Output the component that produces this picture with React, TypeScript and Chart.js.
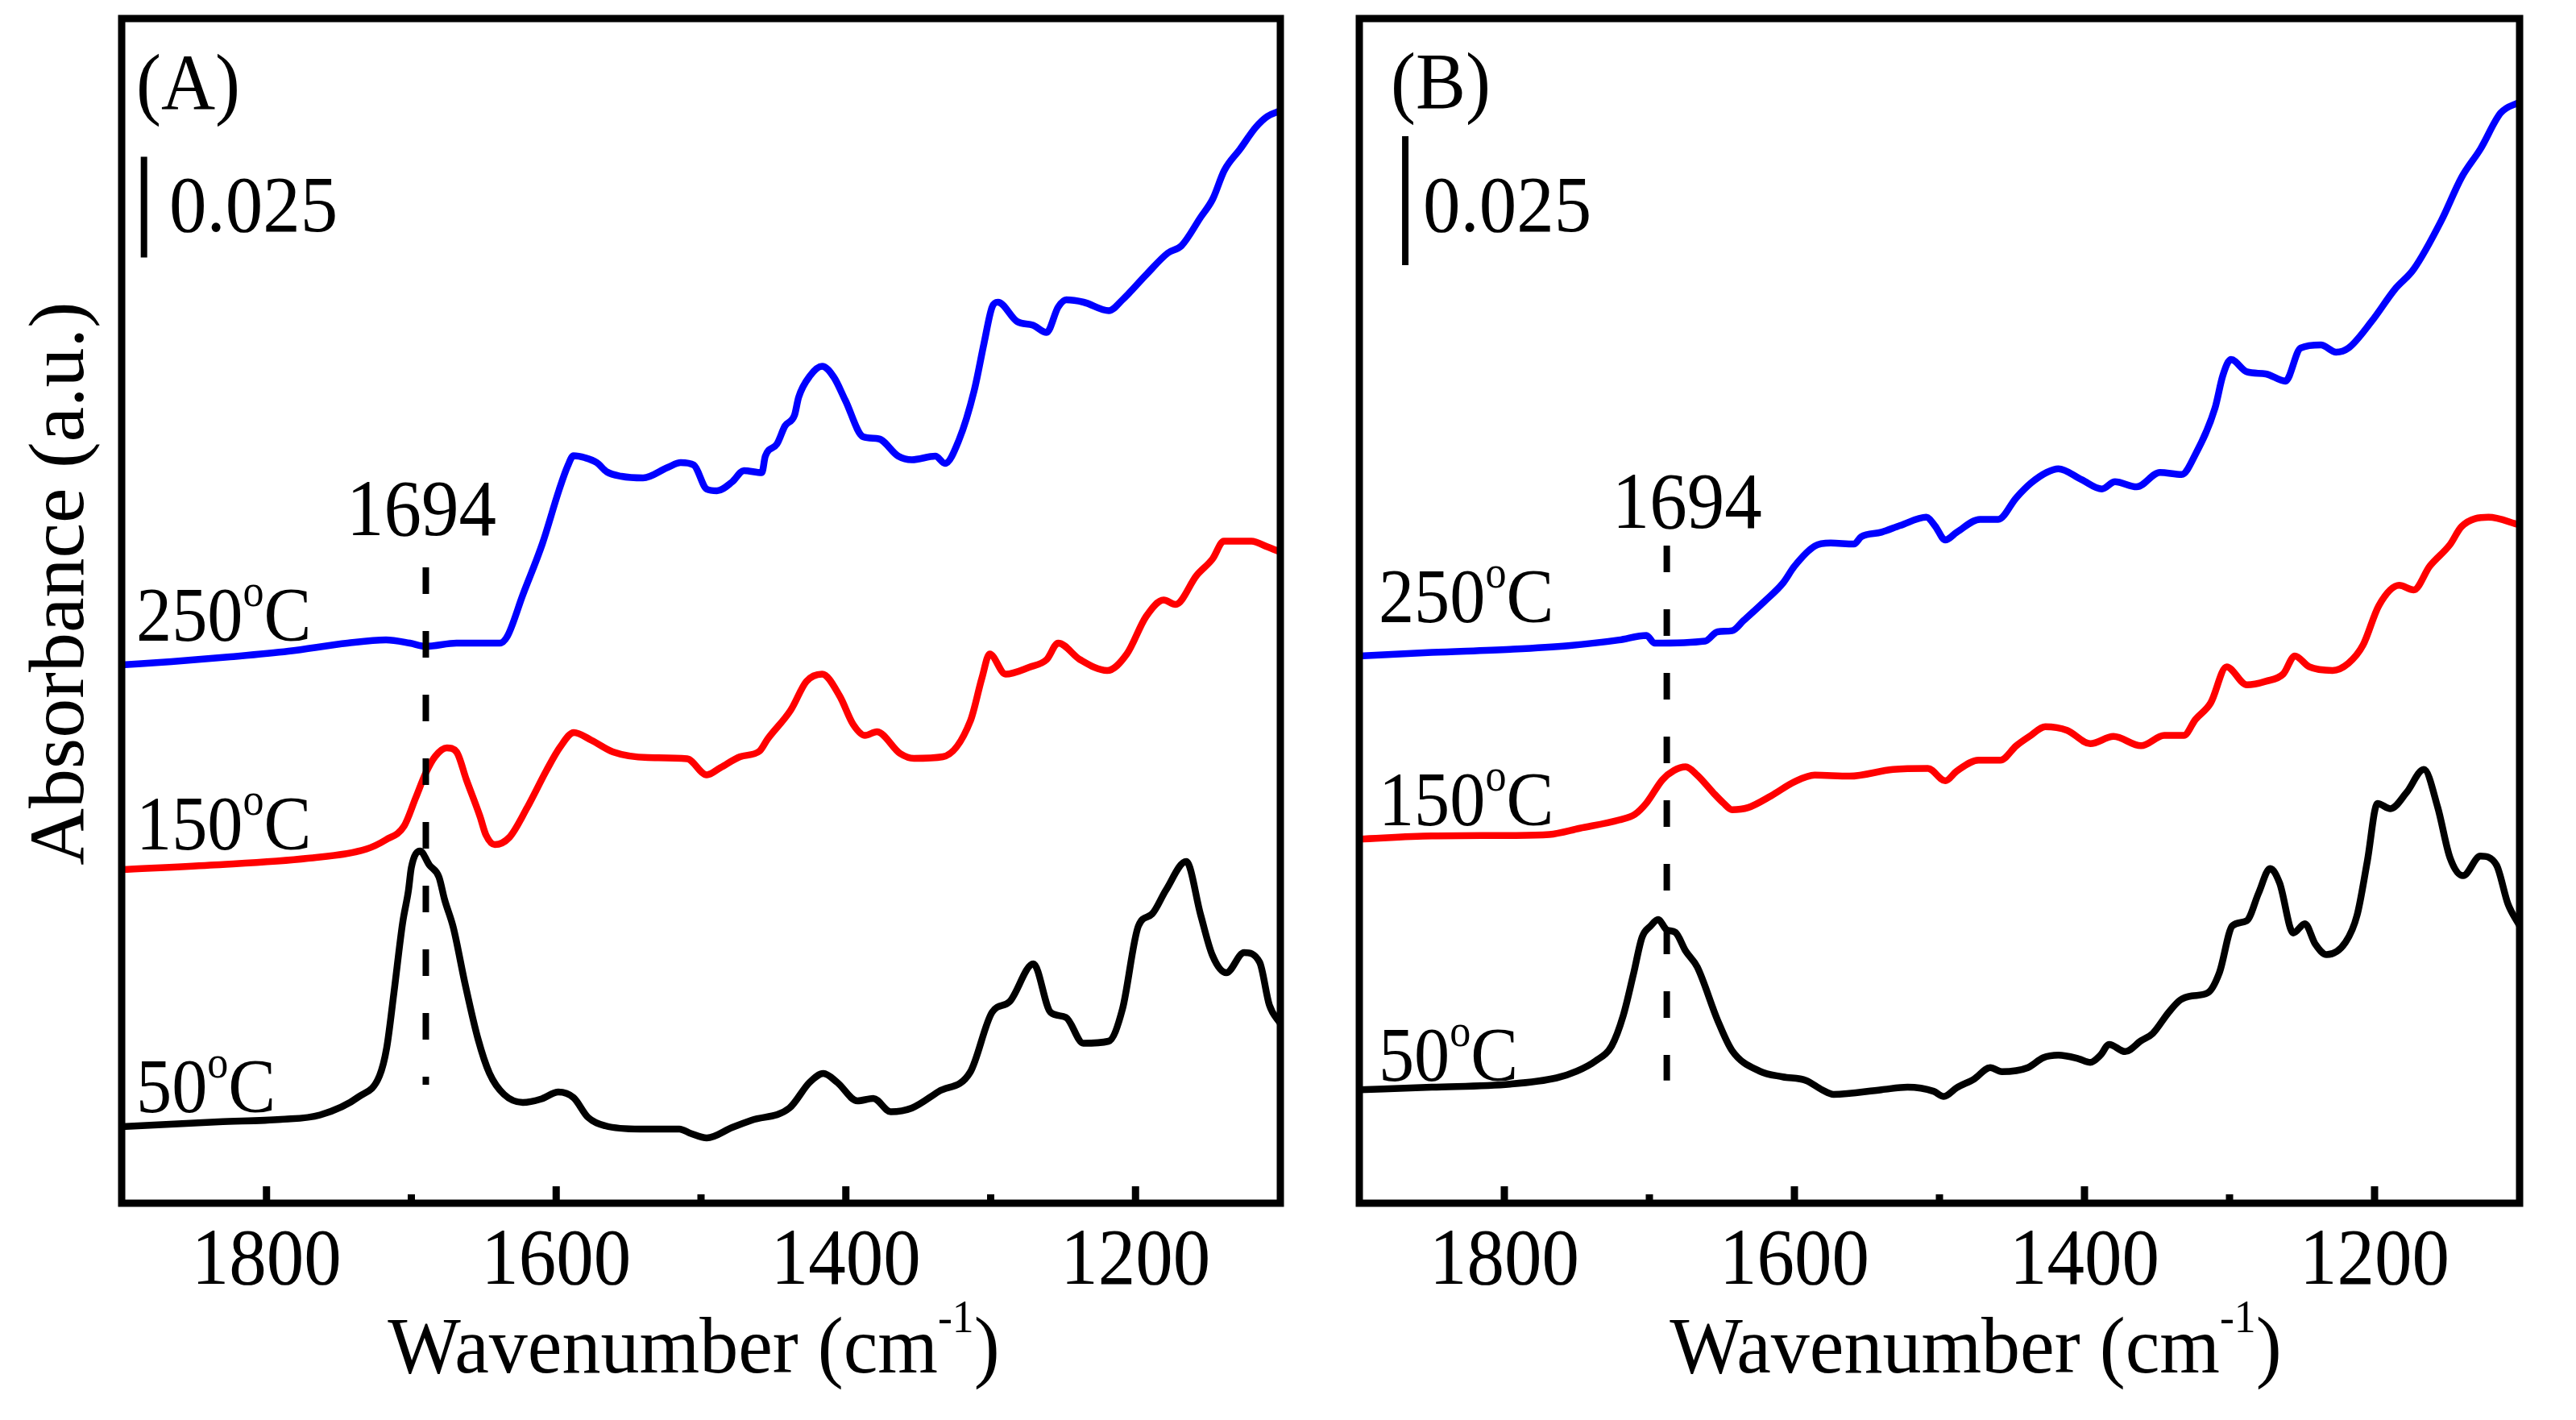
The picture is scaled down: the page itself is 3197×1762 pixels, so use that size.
import { Chart, registerables } from 'chart.js';
import { useEffect, useRef } from 'react';

Chart.register(...registerables);

// ---- panel A (absorbance x 1000, a.u.) ----
const aWn50 = [1900, 1833, 1790, 1763, 1736, 1722, 1717, 1712, 1706, 1702, 1700, 1694, 1687.5, 1681, 1677, 1671, 1663, 1654, 1646, 1636, 1623, 1610, 1598.5, 1588, 1578, 1566, 1542, 1515, 1507, 1496, 1478.5, 1465, 1439, 1425, 1415.5, 1406, 1392, 1381, 1369, 1354.5, 1336, 1314, 1299, 1287, 1270.5, 1258.7, 1248, 1236, 1218.6, 1209, 1198, 1188.5, 1179, 1165, 1155, 1147, 1137.3, 1125, 1114.3, 1107.6, 1100];
const aAbs50 = [19, 20.2, 20.8, 21.9, 26.5, 31.6, 38.6, 52.3, 69.6, 77.6, 83.3, 87.4, 83.9, 81, 75.3, 68.4, 54.6, 40.8, 32.2, 27, 25, 25.9, 27.6, 26.2, 21.3, 19.2, 18.4, 18.4, 17.3, 16.2, 18.8, 20.6, 23.6, 30, 32.2, 30, 25.4, 26, 22.7, 23.6, 27.7, 32.6, 47.4, 50, 59.4, 47.4, 46.1, 39.7, 40.2, 48.2, 68.8, 71.8, 77.7, 84.8, 71.5, 61.6, 57.2, 62.2, 59.8, 49.2, 44.6];

const aWn150 = [1900, 1839, 1771.5, 1731, 1717.5, 1705, 1697, 1690, 1683.5, 1675.5, 1668.8, 1662, 1652.6, 1648.5, 1642.4, 1632.3, 1620, 1606.7, 1597.3, 1587.8, 1575.7, 1560.8, 1536.6, 1509.6, 1496, 1486.5, 1473, 1459.6, 1454, 1438, 1427.2, 1416.4, 1404.3, 1394.9, 1386.8, 1378.6, 1362.5, 1353, 1333, 1314, 1306, 1300.7, 1289.7, 1273.4, 1261.4, 1253.4, 1238.3, 1219.6, 1206, 1192.7, 1180.6, 1172.4, 1157.8, 1146.8, 1139, 1120, 1109, 1100];
const aAbs150 = [82.8, 83.9, 85.6, 87.9, 90.2, 93.6, 100.6, 106.8, 110.9, 113, 112, 105.1, 96, 91.4, 89, 90.8, 98.2, 107.4, 113.2, 116.8, 114.9, 112, 110.6, 110.3, 106.3, 108.1, 110.8, 112.2, 115.2, 122.4, 129.5, 131.3, 125.9, 118.8, 116.1, 117, 111.6, 110.4, 110.8, 119.7, 130.4, 136.3, 131.3, 133, 134.9, 139, 134.9, 132.2, 136.3, 145.6, 149.7, 148.6, 155.8, 159.9, 164.3, 164.3, 162.9, 161.6];

const aWn250 = [1900, 1865.7, 1825, 1784.8, 1744, 1717.5, 1701, 1690, 1668.8, 1639, 1633.7, 1623, 1609.5, 1598, 1592, 1588, 1580, 1572, 1565, 1555, 1540, 1523, 1514, 1505, 1496, 1489, 1478.5, 1470.4, 1458, 1455.6, 1447.6, 1442, 1435.4, 1432.6, 1424.6, 1416.4, 1408.3, 1400.3, 1388, 1377.4, 1363.8, 1354.4, 1338.2, 1331.5, 1322, 1311.3, 1304.6, 1299, 1295, 1281.7, 1270.8, 1261.4, 1253.4, 1247.8, 1235.8, 1218.4, 1209, 1192.7, 1177.7, 1168.3, 1155, 1146.7, 1138.7, 1127.8, 1117, 1109, 1100];
const aAbs250 = [133.6, 134.4, 135.6, 137, 139, 139.8, 139, 138.2, 139, 139, 140.7, 151, 163.7, 177, 183, 185.5, 185, 183.8, 181.5, 180.4, 180, 182.6, 183.8, 183.2, 177.2, 176.8, 179, 181.8, 181.3, 185.4, 188.4, 192.9, 195.6, 200, 205.4, 207.7, 205, 199.2, 190.2, 189.7, 185.4, 184.5, 185.4, 183.6, 189.3, 201.8, 213.4, 222.4, 223.6, 218.8, 217.9, 216.1, 222.4, 224.2, 223.6, 221.5, 224.2, 230.4, 235.8, 237.6, 244.7, 249.2, 256.3, 261.6, 267, 269.7, 271.1];

// ---- panel B ----
const bWn50 = [1900, 1850, 1796, 1764, 1750, 1737, 1726, 1718, 1711, 1705, 1699, 1694, 1688, 1682, 1675, 1667, 1653, 1643, 1624, 1608, 1592, 1581, 1573, 1540, 1522, 1504, 1497, 1488, 1476, 1465, 1457, 1439, 1428.5, 1418, 1404, 1396, 1389, 1383, 1372, 1361, 1353, 1342, 1334, 1326, 1315, 1307, 1298, 1288, 1280, 1272, 1265.5, 1256, 1248, 1241, 1233, 1220, 1212, 1205, 1198, 1189, 1178, 1166, 1156.5, 1148, 1139, 1127, 1116, 1108, 1100];
const bAbs50 = [22.0, 22.5, 23.1, 24.3, 25.6, 27.6, 30.5, 36.4, 44.4, 51.6, 53.8, 55, 53, 52.5, 48.9, 45.8, 35.5, 29.6, 25.6, 24.5, 23.8, 22.0, 21.1, 22.0, 22.5, 21.7, 20.7, 22.4, 24.1, 26.3, 25.5, 26.3, 28.2, 28.7, 28.0, 27.3, 28.7, 30.8, 29.4, 31.5, 32.9, 37.0, 39.4, 40.2, 40.8, 44.7, 53.8, 54.8, 60.1, 64.9, 62.1, 52.4, 54.2, 50.3, 48.2, 50.6, 55.9, 66.3, 77.5, 76.5, 79.6, 84.1, 76.8, 67, 63.5, 67.3, 65.6, 58, 53.8];

const bWn150 = [1900, 1850, 1796, 1769, 1748, 1721, 1710, 1702, 1691, 1683, 1675, 1667, 1656, 1649, 1643, 1632, 1616, 1600, 1586, 1562, 1532, 1508, 1496, 1488, 1473, 1458, 1447, 1438, 1427, 1412, 1396, 1380, 1361, 1345, 1331.5, 1323.5, 1313, 1302, 1288, 1275, 1263, 1255, 1245, 1229, 1218, 1208, 1197, 1183, 1173, 1162, 1148, 1140, 1121.5, 1100];
const bAbs150 = [70.6, 71.2, 71.3, 71.5, 72.7, 74.3, 75.4, 77.6, 82.1, 83.9, 84.6, 83.0, 79.6, 77.6, 76.3, 76.7, 79.0, 81.7, 83.0, 82.8, 84.1, 84.3, 81.9, 83.8, 85.9, 85.9, 88.7, 90.5, 92.4, 91.7, 89.1, 90.5, 88.7, 90.7, 90.7, 93.8, 97.0, 104, 100.5, 101.2, 102.6, 106.1, 104.0, 103.3, 104.7, 108.2, 115.9, 119.8, 118.9, 123.5, 127.7, 131.2, 133, 131.5];

const bWn250 = [1900, 1850, 1796, 1756, 1721, 1702, 1696.5, 1661.5, 1653, 1643, 1635, 1621, 1608, 1600, 1586, 1575, 1559, 1554, 1540, 1527, 1509, 1503, 1496, 1488, 1472, 1459.5, 1447, 1437, 1426, 1418, 1402, 1388, 1379, 1364, 1348, 1333, 1323.5, 1310, 1304.6, 1299, 1288, 1275, 1261.5, 1251, 1237, 1226.5, 1218, 1202, 1186, 1173, 1154, 1140, 1127, 1113, 1100];
const bAbs250 = [106.1, 106.8, 107.4, 108.1, 109.2, 110.1, 108.6, 109, 110.8, 111, 113, 116.6, 120.2, 123.5, 127.4, 128.0, 127.8, 129.2, 130.1, 131.4, 133.0, 131.3, 128.6, 130.1, 132.6, 132.6, 136.8, 139.6, 141.7, 142.4, 140.3, 138.5, 139.9, 138.9, 141.7, 141.3, 145.2, 154.2, 160.5, 163.6, 161.2, 160.8, 159.4, 165.8, 166.4, 165, 165.8, 171, 177.2, 181.1, 190.5, 198.9, 204.4, 211.4, 213.5];

const temps = ['50', '150', '250'];
const colors = ['#000000', '#ff0000', '#0000ff'];
const xTicks = { min: 1100, max: 1900, step: 100 };
const scaleBar = 25; // 0.025 a.u.

const FONT = "'Liberation Serif', 'Times New Roman', serif";

type Part = [string, number, number]; // text, size, rise

function drawRun(ctx: CanvasRenderingContext2D, parts: Part[], x: number, y: number, align: 'left' | 'center', squeeze = 0.93) {
	let total = 0;
	const widths = parts.map(([t, size]) => {
		ctx.font = `${size}px ${FONT}`;
		const w = ctx.measureText(t).width * squeeze;
		total += w;
		return w;
	});
	let cx = align === 'center' ? x - total / 2 : x;
	ctx.textAlign = 'left';
	ctx.textBaseline = 'alphabetic';
	parts.forEach(([t, size, rise], i) => {
		ctx.save();
		ctx.font = `${size}px ${FONT}`;
		ctx.translate(cx, y - rise);
		ctx.scale(squeeze, 1);
		ctx.fillText(t, 0, 0);
		ctx.restore();
		cx += widths[i];
	});
}

const panelPlugin = {
	id: 'panel',
	afterDraw(chart: any, _args: any, o: any) {
		const { ctx, chartArea: a } = chart;
		const x = chart.scales.x;
		const y = chart.scales.y;
		ctx.save();
		ctx.fillStyle = '#000';
		ctx.strokeStyle = '#000';

		// peak marker
		ctx.lineWidth = 8;
		ctx.setLineDash([33, 46]);
		ctx.beginPath();
		ctx.moveTo(x.getPixelForValue(o.markWn), y.getPixelForValue(o.markY[1]));
		ctx.lineTo(x.getPixelForValue(o.markWn), y.getPixelForValue(o.markY[0]));
		ctx.stroke();
		ctx.setLineDash([]);
		drawRun(ctx, [[o.markText, 100, 0]], x.getPixelForValue(o.markTextAt[0]), y.getPixelForValue(o.markTextAt[1]), 'center');

		// scale bar
		ctx.beginPath();
		ctx.moveTo(x.getPixelForValue(o.barX), y.getPixelForValue(o.barY));
		ctx.lineTo(x.getPixelForValue(o.barX), y.getPixelForValue(o.barY + scaleBar));
		ctx.stroke();
		drawRun(ctx, [[(scaleBar / 1000).toFixed(3), 100, 0]], x.getPixelForValue(o.barTextAt[0]), y.getPixelForValue(o.barTextAt[1]), 'left');

		// panel letter
		drawRun(ctx, [[o.letter, 100, 0]], x.getPixelForValue(o.letterAt[0]), y.getPixelForValue(o.letterAt[1]), 'left');

		// temperature labels
		temps.forEach((t, i) => {
			drawRun(ctx, [[t, 95, 0], ['o', 56, 43], ['C', 95, 0]], x.getPixelForValue(o.tempX), y.getPixelForValue(o.tempY[i]), 'left');
		});

		// frame
		ctx.lineWidth = 9;
		ctx.strokeRect(a.left, a.top, a.right - a.left, a.bottom - a.top);

		// inward ticks + labels
		x.ticks.forEach((t: any) => {
			const v = t.value;
			if (v <= xTicks.min || v >= xTicks.max) return;
			const major = v % 200 === 0;
			const px = x.getPixelForValue(v);
			ctx.beginPath();
			ctx.moveTo(px, a.bottom);
			ctx.lineTo(px, a.bottom - (major ? 21 : 11));
			ctx.stroke();
			if (major) drawRun(ctx, [[String(v), 100, 0]], px, a.bottom + 100, 'center');
		});

		// axis titles
		drawRun(ctx, [['Wavenumber (cm', 100, 0], ['-1', 56, 50], [')', 100, 0]], x.getPixelForValue(o.titleWn), a.bottom + 210, 'center', 0.96);
		if (o.yTitle) {
			ctx.save();
			ctx.translate(a.left - 48, y.getPixelForValue(o.yTitleAt));
			ctx.rotate(-Math.PI / 2);
			ctx.font = `98px ${FONT}`;
			ctx.textAlign = 'center';
			ctx.textBaseline = 'alphabetic';
			ctx.fillText(o.yTitle, 0, 0);
			ctx.restore();
		}
		ctx.restore();
	},
};

type PanelCfg = {
	series: [number[], number[]][];
	yMax: number;
	width: number;
	padding: { left: number; right: number; top: number; bottom: number };
	opts: any;
};

const panels: PanelCfg[] = [
	{
		series: [[aWn50, aAbs50], [aWn150, aAbs150], [aWn250, aAbs250]],
		yMax: 294,
		width: 1598,
		padding: { left: 151, right: 9, top: 23, bottom: 269 },
		opts: {
			letter: '(A)', letterAt: [1890, 271.4],
			barX: 1884.6, barY: 234.7, barTextAt: [1867.2, 241.2],
			markWn: 1690, markY: [29.4, 157.8], markText: '1694', markTextAt: [1693, 165.8],
			tempX: 1890, tempY: [22.7, 87.9, 139.6],
			titleWn: 1505,
			yTitle: 'Absorbance (a.u.)', yTitleAt: 153.8,
		},
	},
	{
		series: [[bWn50, bAbs50], [bWn150, bAbs150], [bWn250, bAbs250]],
		yMax: 229.7,
		width: 1599,
		padding: { left: 89, right: 70, top: 23, bottom: 269 },
		opts: {
			letter: '(B)', letterAt: [1878.3, 212.3],
			barX: 1868.3, barY: 181.9, barTextAt: [1856.1, 188.4],
			markWn: 1688, markY: [23.8, 127.5], markText: '1694', markTextAt: [1674, 131.0],
			tempX: 1886.7, tempY: [23.8, 73.3, 112.7],
			titleWn: 1475,
			yTitle: null, yTitleAt: 0,
		},
	},
];

function Panel({ cfg }: { cfg: PanelCfg }) {
	const canvasRef = useRef<HTMLCanvasElement | null>(null);

	useEffect(() => {
		if (!canvasRef.current) return;
		const chart = new Chart(canvasRef.current, {
			type: 'line',
			data: {
				datasets: cfg.series.map(([wn, abs], i) => ({
					label: temps[i],
					data: wn.map((w, j) => ({ x: w, y: abs[j] })),
					borderColor: colors[i],
					borderWidth: 8.5,
					pointRadius: 0,
					fill: false,
					cubicInterpolationMode: 'monotone' as const,
				})),
			},
			options: {
				animation: false,
				responsive: false,
				devicePixelRatio: 1,
				layout: { padding: cfg.padding },
				events: [],
				scales: {
					x: {
						type: 'linear',
						min: xTicks.min,
						max: xTicks.max,
						reverse: true,
						ticks: { stepSize: xTicks.step, display: false },
						grid: { display: false },
						border: { display: false },
						afterFit: (s: any) => {
							s.height = 0;
						},
					},
					y: { type: 'linear', display: false, min: 0, max: cfg.yMax },
				},
				plugins: {
					legend: { display: false },
					tooltip: { enabled: false },
					panel: cfg.opts,
				} as any,
			},
			plugins: [panelPlugin],
		});
		return () => chart.destroy();
	}, [cfg]);

	return <canvas ref={canvasRef} width={cfg.width} height={1762} style={{ display: 'block', width: cfg.width, height: 1762 }} />;
}

export default function App() {
	return (
		<div style={{ position: 'absolute', left: 0, top: 0, width: 3197, height: 1762, display: 'flex', background: '#fff' }}>
			{panels.map((p, i) => (
				<Panel key={i} cfg={p} />
			))}
		</div>
	);
}
